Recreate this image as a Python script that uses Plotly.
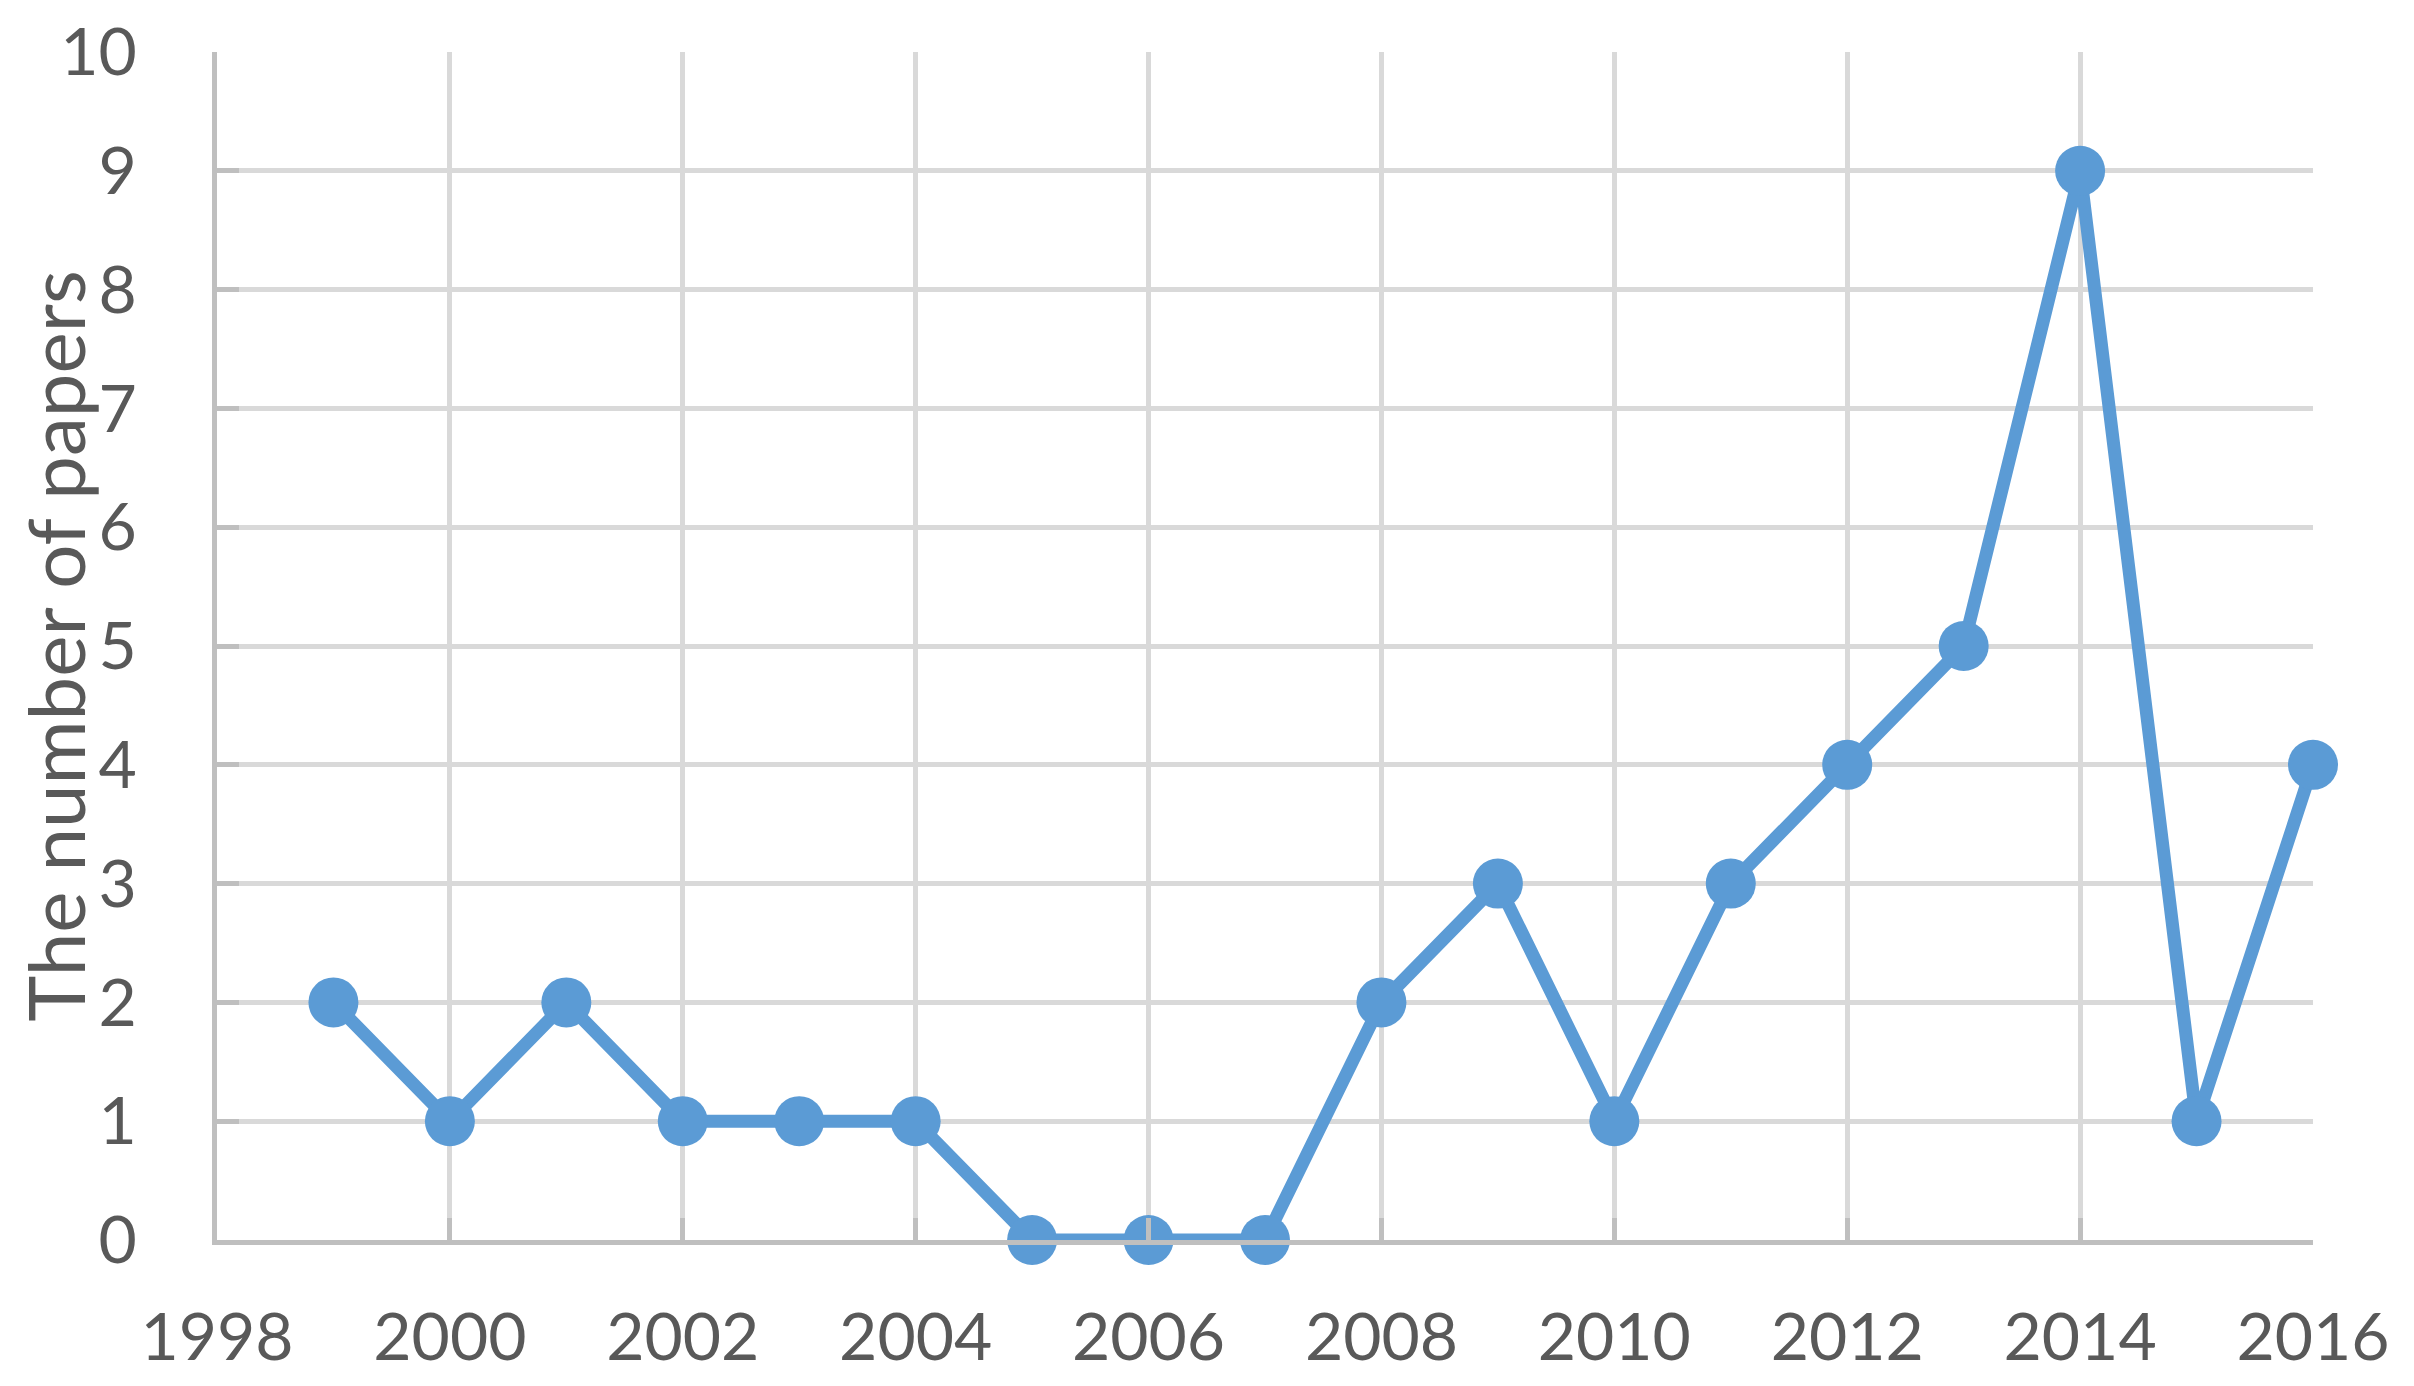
import plotly.graph_objects as go

years = [1999, 2000, 2001, 2002, 2003, 2004, 2005, 2006, 2007, 2008,
         2009, 2010, 2011, 2012, 2013, 2014, 2015, 2016]
papers = [2, 1, 2, 1, 1, 1, 0, 0, 0, 2, 3, 1, 3, 4, 5, 9, 1, 4]
x_ticks = [1998, 2000, 2002, 2004, 2006, 2008, 2010, 2012, 2014, 2016]
y_ticks = list(range(0, 11))
y_title = "The number of papers"

fig = go.Figure()
fig.add_trace(go.Scatter(
    x=years, y=papers, mode="lines+markers",
    line=dict(color="#5B9BD5", width=13),
    marker=dict(color="#5B9BD5", size=50),
    cliponaxis=False, showlegend=False,
))

font = dict(family="Lato, Calibri, Carlito, sans-serif", size=66, color="#595959")
title_font = dict(family="Lato, Calibri, Carlito, sans-serif", size=78, color="#595959")

fig.update_layout(
    width=2414, height=1386,
    margin=dict(l=209, r=109, t=44, b=154),
    paper_bgcolor="white", plot_bgcolor="white",
    font=font,
    xaxis=dict(
        range=[1998, 2016], tickvals=x_ticks, ticktext=[str(v) for v in x_ticks],
        showgrid=True, gridcolor="#D9D9D9", gridwidth=5,
        showline=True, linecolor="#BFBFBF", linewidth=5,
        ticks="inside", ticklen=22, tickwidth=5, tickcolor="#BFBFBF",
        zeroline=False, ticklabelstandoff=36, tickfont=font, automargin=False,
    ),
    yaxis=dict(
        range=[0, 10], tickvals=y_ticks,
        showgrid=True, gridcolor="#D9D9D9", gridwidth=5,
        showline=True, linecolor="#BFBFBF", linewidth=5,
        ticks="inside", ticklen=22, tickwidth=5, tickcolor="#BFBFBF",
        zeroline=False, ticklabelstandoff=62, tickfont=font, automargin=False,
        title=dict(text=y_title, font=title_font, standoff=10),
    ),
)

fig.write_html("out.html")
